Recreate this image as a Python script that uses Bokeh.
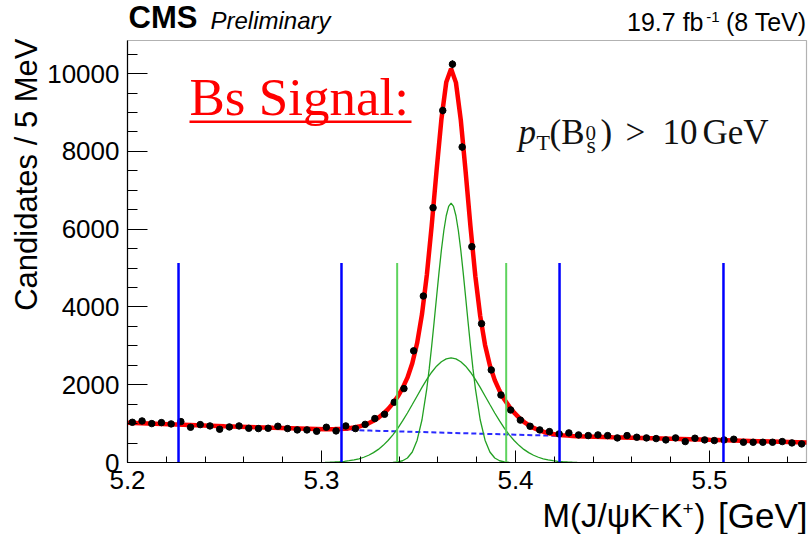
import numpy as np
from bokeh.plotting import figure
from bokeh.models import Label, BoxAnnotation, Range1d, SingleIntervalTicker, LinearAxis
from bokeh.embed import file_html
from bokeh.resources import INLINE

# ---------------- data ----------------
bin_centers = [
    5.2025, 5.2075, 5.2125, 5.2175, 5.2225, 5.2275, 5.2325, 5.2375, 5.2425, 5.2475,
    5.2525, 5.2575, 5.2625, 5.2675, 5.2725, 5.2775, 5.2825, 5.2875, 5.2925, 5.2975,
    5.3025, 5.3075, 5.3125, 5.3175, 5.3225, 5.3275, 5.3325, 5.3375, 5.3425, 5.3475,
    5.3525, 5.3575, 5.3625, 5.3675, 5.3725, 5.3775, 5.3825, 5.3875, 5.3925, 5.3975,
    5.4025, 5.4075, 5.4125, 5.4175, 5.4225, 5.4275, 5.4325, 5.4375, 5.4425, 5.4475,
    5.4525, 5.4575, 5.4625, 5.4675, 5.4725, 5.4775, 5.4825, 5.4875, 5.4925, 5.4975,
    5.5025, 5.5075, 5.5125, 5.5175, 5.5225, 5.5275, 5.5325, 5.5375, 5.5425, 5.5475,
]
candidates = [
    1034, 1068, 1000, 1026, 992, 1051, 906, 974, 940, 855,
    914, 940, 880, 872, 880, 932, 872, 838, 838, 803,
    906, 812, 940, 872, 980, 1130, 1240, 1550, 1900, 2870,
    4280, 6550, 9050, 10240, 8110, 5550, 3570, 2380, 1735, 1350,
    1090, 932, 838, 795, 735, 761, 709, 692, 709, 692,
    632, 692, 649, 632, 615, 581, 632, 538, 624, 581,
    564, 581, 598, 521, 521, 521, 521, 538, 504, 478,
]

# fine mass grid around the peak (fit curves)
fine_mass = [
    5.3018, 5.3043, 5.3068, 5.3093, 5.3118, 5.3143, 5.3168, 5.3193, 5.3218, 5.3243,
    5.3268, 5.3293, 5.3318, 5.3343, 5.3368, 5.3393, 5.3418, 5.3443, 5.3468, 5.3493,
    5.3518, 5.3543, 5.3568, 5.3593, 5.3618, 5.3643, 5.3668, 5.3693, 5.3718, 5.3743,
    5.3768, 5.3793, 5.3818, 5.3843, 5.3868, 5.3893, 5.3918, 5.3943, 5.3968, 5.3993,
    5.4018, 5.4043, 5.4068, 5.4093, 5.4118, 5.4143, 5.4168, 5.4193, 5.4218, 5.4243,
    5.4268, 5.4293, 5.4318,
]
wide_gauss = [
    5, 8, 13, 20, 31, 46, 67, 96, 135, 187,
    253, 337, 441, 565, 712, 880, 1069, 1273, 1490, 1711,
    1930, 2136, 2321, 2476, 2592, 2665, 2690, 2665, 2592, 2476,
    2321, 2136, 1930, 1711, 1490, 1273, 1069, 880, 712, 565,
    441, 337, 253, 187, 135, 96, 67, 46, 31, 20,
    13, 8, 5,
]
fit_fine = [
    858, 857, 859, 862, 870, 881, 899, 924, 960, 1008,
    1071, 1151, 1252, 1372, 1521, 1696, 1911, 2181, 2550, 3071,
    3812, 4823, 6091, 7498, 8821, 9774, 10122, 9767, 8807, 7477,
    6063, 4788, 3770, 3022, 2494, 2118, 1841, 1619, 1437, 1281,
    1154, 1046, 959, 889, 834, 791, 759, 734, 716, 701,
    691, 682, 676,
]
fit_left_mass = [5.200, 5.225, 5.250, 5.275]
fit_left = [1025, 980, 935, 893]
fit_right_mass = [5.450, 5.475, 5.500, 5.525, 5.550]
fit_right = [650, 620, 582, 548, 512]

narrow_mass = [
    5.3368, 5.3393, 5.3418, 5.3443, 5.3468, 5.3493, 5.3518, 5.3543, 5.35555, 5.3568,
    5.35805, 5.3593, 5.36055, 5.3618, 5.36305, 5.3643, 5.36555, 5.3668, 5.36805, 5.3693,
    5.37055, 5.3718, 5.37305, 5.3743, 5.37555, 5.3768, 5.37805, 5.3793, 5.3818, 5.3843,
    5.3868, 5.3893, 5.3918, 5.3943, 5.3968,
]
narrow_gauss = [
    5, 16, 45, 115, 270, 574, 1099, 1908, 2419, 2994,
    3611, 4250, 4877, 5460, 5959, 6344, 6587, 6670, 6587, 6344,
    5959, 5460, 4877, 4250, 3611, 2994, 2419, 1908, 1099, 574,
    270, 115, 45, 16, 5,
]

bkg_mass = [5.200, 5.225, 5.250, 5.275, 5.300, 5.325, 5.350, 5.375,
            5.400, 5.425, 5.450, 5.475, 5.500, 5.525, 5.550]
bkg_counts = [1025, 980, 935, 893, 855, 820, 785, 750,
              715, 681, 650, 620, 582, 548, 512]

sideband_edges = [5.2263, 5.3103, 5.4227, 5.5072]
signal_edges = [5.3390, 5.3952]
window_line_top = 5130

x_ticks = [5.2, 5.3, 5.4, 5.5]
y_ticks = [0, 2000, 4000, 6000, 8000, 10000]

# ---------------- layout helpers (canvas px -> data) ----------------
W, H = 809, 534
FL, FR, FT, FB = 127, 806, 40, 462      # where the ROOT frame sits on the canvas
X0, X1, Y0, Y1 = 5.2, 5.55, 0, 10850    # data limits of that frame


def dx(px):
    return X0 + (px - FL) * (X1 - X0) / (FR - FL)


def dy(py):
    return Y0 + (FB - py) * (Y1 - Y0) / (FB - FT)


# the bokeh frame covers the whole canvas, so texts outside the ROOT box are not clipped
p = figure(width=W, height=H, x_range=Range1d(dx(0), dx(W)), y_range=Range1d(dy(H), dy(0)),
           output_backend="svg", toolbar_location=None,
           x_axis_location=None, y_axis_location=None,
           min_border=0, min_border_left=0, min_border_right=0,
           min_border_top=0, min_border_bottom=0)
p.xgrid.visible = False
p.ygrid.visible = False
p.outline_line_color = None
p.background_fill_color = "white"
p.border_fill_color = "white"

xaxis = LinearAxis(fixed_location=Y0, bounds=(X0, X1),
                   ticker=SingleIntervalTicker(interval=0.1, num_minor_ticks=5),
                   major_label_overrides={t: f"{t:.1f}" for t in x_ticks})
yaxis = LinearAxis(fixed_location=X0, bounds=(Y0, Y1),
                   ticker=SingleIntervalTicker(interval=2000, num_minor_ticks=4),
                   major_label_overrides={t: str(t) for t in y_ticks})
for ax in (xaxis, yaxis):
    ax.axis_line_color = "black"
    ax.axis_line_width = 1.2
    ax.major_tick_line_color = "black"
    ax.minor_tick_line_color = "black"
    ax.major_tick_out = 0
    ax.minor_tick_out = 0
    ax.major_label_text_font = "Liberation Sans"
    ax.major_label_text_font_size = "26px"
    ax.major_label_text_color = "black"
xaxis.major_tick_in = 12
xaxis.minor_tick_in = 6
xaxis.major_label_standoff = 8
yaxis.major_tick_in = 20
yaxis.minor_tick_in = 10
yaxis.major_label_standoff = 8
p.add_layout(xaxis, "below")
p.add_layout(yaxis, "left")

# ROOT frame box
p.add_layout(BoxAnnotation(left=X0, right=X1, bottom=Y0, top=Y1, fill_alpha=0,
                           line_color="black", line_width=1.2))

# ---------------- curves ----------------
p.line(bkg_mass, bkg_counts, line_color="#2a2aff", line_width=2, line_dash="5 3")
fit_mass = fit_left_mass + fine_mass + fit_right_mass
fit_counts = fit_left + fit_fine + fit_right
p.line(fit_mass, fit_counts, line_color="#ff0000", line_width=4.5)
p.line(fine_mass, wide_gauss, line_color="#22a022", line_width=1.3)
p.line(narrow_mass, narrow_gauss, line_color="#22a022", line_width=1.3)

# ---------------- data points ----------------
cand = np.array(candidates, dtype=float)
err = np.sqrt(cand)
p.segment(x0=bin_centers, y0=cand - err, x1=bin_centers, y1=cand + err,
          line_color="black", line_width=1.5)
p.scatter(bin_centers, candidates, size=6.5, marker="circle",
          fill_color="black", line_color="black")

# ---------------- window lines ----------------
p.segment(x0=signal_edges, y0=[0] * len(signal_edges), x1=signal_edges,
          y1=[window_line_top] * len(signal_edges), line_color="#5ed35e", line_width=2)
p.segment(x0=sideband_edges, y0=[0] * len(sideband_edges), x1=sideband_edges,
          y1=[window_line_top] * len(sideband_edges), line_color="#0000ff", line_width=2.5)

# ---------------- texts ----------------
BASE_SHIFT = 0.35  # label anchor sits this fraction of the font size above the glyph baseline


def lab(px, py, text, size, font="Liberation Sans", style="normal", color="black",
        align="left", angle=0.0):
    if angle == 0.0:
        ax_, ay_ = px, py - BASE_SHIFT * size
    else:
        ax_, ay_ = px - BASE_SHIFT * size, py
    p.add_layout(Label(x=dx(ax_), y=dy(ay_), text=text, text_font=font,
                       text_font_size=f"{size}px", text_font_style=style,
                       text_color=color, text_align=align,
                       text_baseline="alphabetic", angle=angle))


lab(128, 28, "CMS", 31, style="bold")
lab(210, 28, "Preliminary", 24, style="italic")
lab(806, 30, "(8 TeV)", 25, align="right")
lab(719, 22, "-1", 15, align="right")
lab(703, 30, "19.7 fb", 25, align="right")

lab(37, 38, "Candidates / 5 MeV", 31, align="right", angle=np.pi / 2)

# x-axis title  M(J/psi K^- K^+) [GeV]
lab(542, 527, "M(J/ψK", 33)
lab(648, 515, "−", 19)
lab(660, 527, "K", 33)
lab(682, 515, "+", 19)
lab(694, 527, ")", 33)
lab(807, 527, "[GeV]", 35, align="right")

# Bs Signal: (red, underlined)
lab(189, 115, "Bs Signal:", 53, font="Liberation Serif", color="#ff0000")
p.add_layout(BoxAnnotation(left=dx(189), right=dx(411), top=dy(120), bottom=dy(122.5),
                           fill_color="#ff0000", fill_alpha=1.0, line_alpha=0))

# p_T(B_s^0) > 10 GeV
serif = "Liberation Serif"
ink = "#111111"
lab(518, 144, "p", 35, font=serif, style="italic", color=ink)
lab(536, 150, "T", 22, font=serif, color=ink)
lab(549, 144, "(B", 35, font=serif, color=ink)
lab(585, 140, "0", 21, font=serif, color=ink)
lab(586, 153, "s", 24, font=serif, color=ink)
lab(600, 144, ")", 35, font=serif, color=ink)
lab(625, 144, ">", 35, font=serif, color=ink)
lab(662, 144, "10", 35, font=serif, color=ink)
lab(702, 144, "GeV", 35, font=serif, color=ink)

open("out.html", "w").write(file_html(p, INLINE))
